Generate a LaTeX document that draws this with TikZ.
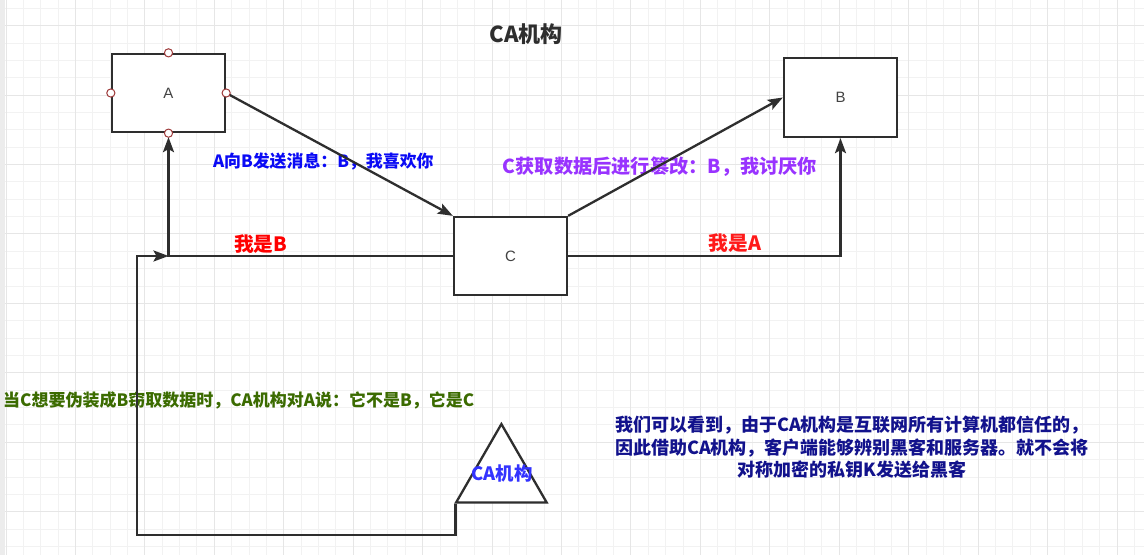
\documentclass[tikz,border=0pt]{standalone}
\usepackage{fontspec}
\usetikzlibrary{arrows.meta,shapes.geometric}
\newfontfamily\cjk{Noto Sans CJK SC}
\setsansfont{Liberation Sans}
\definecolor{edge}{HTML}{2E2E2E}
\definecolor{portc}{HTML}{9E3A3A}
\definecolor{gridminor}{HTML}{F2F2F2}
\definecolor{gridmajor}{HTML}{E6E6E6}
\definecolor{strip}{HTML}{ECECEC}
\definecolor{tblue}{HTML}{0A0AF5}
\definecolor{tpurple}{HTML}{9933FF}
\definecolor{tred}{HTML}{FF1A1A}
\definecolor{tgreen}{HTML}{3B6B00}
\definecolor{tnavy}{HTML}{12128C}
\definecolor{tca}{HTML}{3333FF}
\begin{document}
\begin{tikzpicture}[x=1pt,y=-1pt,
  box/.style={draw=edge,line width=2.3pt,fill=white,minimum width=113pt,minimum height=78pt,inner sep=0pt,font=\sffamily\fontsize{15}{17}\selectfont,text=edge!90},
  conn/.style={draw=edge,line width=2.3pt,-{Stealth[length=15pt,width=11pt,inset=3pt]}},
  port/.style={circle,draw=portc,fill=white,line width=1pt,minimum size=8.2pt,inner sep=0pt},
  lbl/.style={inner sep=0pt,font=\cjk\bfseries\fontsize{#1}{#1}\selectfont},
  lbl/.default=16]
\useasboundingbox (0,0) rectangle (1144,555);
\fill[white] (0,0) rectangle (1144,555);
% grid
\foreach \i in {0,...,66} {\pgfmathsetmacro\xx{6+17.36*\i}\draw[gridminor,line width=1pt] (\xx,0) -- (\xx,555);}
\foreach \j in {0,...,31} {\pgfmathsetmacro\yy{8.3+17.36*\j}\draw[gridminor,line width=1pt] (0,\yy) -- (1144,\yy);}
\foreach \i in {0,4,...,64} {\pgfmathsetmacro\xx{6+17.36*\i}\draw[gridmajor,line width=1pt] (\xx,0) -- (\xx,555);}
\foreach \j in {1,5,...,29} {\pgfmathsetmacro\yy{8.3+17.36*\j}\draw[gridmajor,line width=1pt] (0,\yy) -- (1144,\yy);}
\fill[strip] (0,0) rectangle (5,555);
% texts
\node[lbl=22,text=edge] (title) at (526,34) {CA机构};
\node[lbl=16.9,text=tblue] (msg1) at (323.3,161.7) {A向B发送消息：B，我喜欢你};
\node[lbl=19.2,text=tpurple] (msg2) at (660,166.7) {C获取数据后进行篡改：B，我讨厌你};
\node[lbl=19.7,text=red] (iamb) at (260.8,244) {我是B};
\node[lbl=19.7,text=tred] (iama) at (735,243.3) {我是A};
\node[lbl=17,text=tgreen,anchor=west] (warn) at (3,400.7) {当C想要伪装成B窃取数据时，CA机构对A说：它不是B，它是C};
\node[inner sep=0pt,text=tnavy,align=center,font=\cjk\bfseries\fontsize{18}{22.5}\selectfont] (note) at (852,447.5)
  {我们可以看到，由于CA机构是互联网所有计算机都信任的，\\因此借助CA机构，客户端能够辨别黑客和服务器。就不会将\\对称加密的私钥K发送给黑客};
% boxes
\node[box] (A) at (168.5,93) {A};
\node[box,minimum height=79pt] (B) at (840.5,97.5) {B};
\node[box] (C) at (510.5,256) {C};
\node[regular polygon,regular polygon sides=3,minimum size=104.7pt,inner sep=0pt,draw=edge,line width=2.3pt,fill=white] (ca) at (501.4,476.4) {};
\node[lbl=18.4,text=tca] (calbl) at (502,473.3) {CA机构};
% connectors
\coordinate (j) at (A.south |- C.west);
\coordinate (b1) at (137,535);
\draw[conn,shorten <=4pt] (A.east) -- (C.north west);
\draw[conn] (C.north east) -- (B.west);
\draw[conn] (C.east) -| (B.south);
\draw[conn,shorten >=4pt] (C.west) -| (A.south);
\draw[conn] ([xshift=1.5pt]ca.corner 2) |- (b1) |- (j);
% ports
\foreach \p in {north,south,east,west} {\node[port] at (A.\p) {};}
\end{tikzpicture}
\end{document}
